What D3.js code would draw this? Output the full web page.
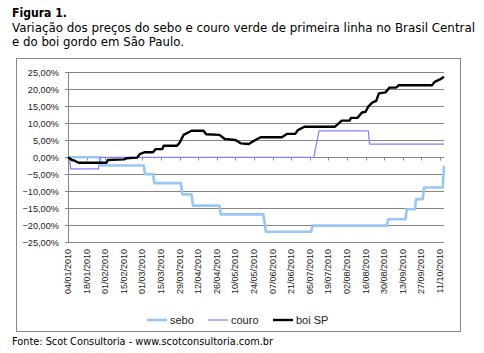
<!DOCTYPE html>
<html>
<head>
<meta charset="utf-8">
<script src="https://cdn.jsdelivr.net/npm/d3@7"></script>
<style>
  body { margin: 0; background: #fff; }
  svg { display: block; }
</style>
</head>
<body>
<svg></svg>
<script>
const width = 484;
const height = 353;

// values (% change since 04/01/2010)
const seboDates = ["04/01/2010", "28/01/2010", "29/01/2010", "02/03/2010", "03/03/2010", "09/03/2010", "10/03/2010",
  "30/03/2010", "31/03/2010", "07/04/2010", "08/04/2010", "28/04/2010", "29/04/2010", "31/05/2010", "02/06/2010",
  "06/07/2010", "07/07/2010", "01/09/2010", "02/09/2010", "15/09/2010", "16/09/2010", "22/09/2010", "23/09/2010",
  "28/09/2010", "29/09/2010", "13/10/2010", "14/10/2010"];
const seboValues = [0, 0, -2.4, -2.4, -5.0, -5.0, -7.6,
  -7.6, -10.9, -10.9, -14.2, -14.2, -16.8, -16.8, -21.9,
  -21.9, -20.1, -20.1, -18.2, -18.2, -15.3, -15.3, -12.3,
  -12.3, -8.9, -8.9, -2.5];

const couroDates = ["04/01/2010", "05/01/2010", "06/01/2010", "27/01/2010", "28/01/2010", "08/07/2010", "10/07/2010",
  "12/07/2010", "18/08/2010", "19/08/2010", "14/10/2010"];
const couroValues = [0, 0, -3.4, -3.4, 0, 0, 4.0,
  7.8, 7.8, 3.9, 3.9];

const boiDates = ["04/01/2010", "07/01/2010", "09/01/2010", "12/01/2010", "02/02/2010", "03/02/2010", "15/02/2010",
  "17/02/2010", "25/02/2010", "27/02/2010", "03/03/2010", "09/03/2010", "11/03/2010", "16/03/2010", "17/03/2010",
  "27/03/2010", "29/03/2010", "01/04/2010", "07/04/2010", "16/04/2010", "18/04/2010", "28/04/2010", "02/05/2010",
  "10/05/2010", "14/05/2010", "20/05/2010", "25/05/2010", "29/05/2010", "14/06/2010", "18/06/2010", "24/06/2010",
  "26/06/2010", "01/07/2010", "24/07/2010", "29/07/2010", "04/08/2010", "05/08/2010", "10/08/2010", "13/08/2010",
  "16/08/2010", "18/08/2010", "21/08/2010", "24/08/2010", "26/08/2010", "31/08/2010", "03/09/2010", "08/09/2010",
  "10/09/2010", "05/10/2010", "07/10/2010", "11/10/2010", "14/10/2010"];
const boiValues = [0, -0.8, -1.0, -1.6, -1.6, -0.8, -0.6,
  -0.3, -0.1, 0.9, 1.5, 1.5, 2.4, 2.4, 3.4,
  3.4, 4.3, 6.6, 7.8, 7.8, 6.8, 6.6, 5.4,
  5.1, 4.1, 3.9, 5.1, 5.9, 5.9, 6.9, 6.9,
  8.0, 9.0, 9.0, 10.8, 10.8, 11.6, 11.6, 13.1,
  13.4, 14.9, 16.1, 16.6, 18.8, 19.1, 20.5, 20.5,
  21.2, 21.2, 22.2, 22.9, 23.7];

const yTicks = [-25, -20, -15, -10, -5, 0, 5, 10, 15, 20, 25];
const xTickLabels = ["04/01/2010", "18/01/2010", "01/02/2010", "15/02/2010", "01/03/2010", "15/03/2010",
  "29/03/2010", "12/04/2010", "26/04/2010", "10/05/2010", "24/05/2010", "07/06/2010", "21/06/2010",
  "05/07/2010", "19/07/2010", "02/08/2010", "16/08/2010", "30/08/2010", "13/09/2010", "27/09/2010", "11/10/2010"];

const seriesNames = ["sebo", "couro", "boi SP"];
const seriesColors = ["#99c6f2", "#8080ff", "#000000"];
const seriesWidths = [2.6, 1.2, 2.4];

const parse = d3.timeParse("%d/%m/%Y");
const series = [
  seboDates.map((d, i) => ({ date: parse(d), value: seboValues[i] })),
  couroDates.map((d, i) => ({ date: parse(d), value: couroValues[i] })),
  boiDates.map((d, i) => ({ date: parse(d), value: boiValues[i] }))
];

const svg = d3.select("svg")
  .attr("width", width)
  .attr("height", height);

const titleFont = "'DejaVu Sans', sans-serif";
const smallFont = "'Liberation Sans', Arial, sans-serif";

// title
svg.append("text")
  .attr("x", 12).attr("y", 17)
  .attr("font-family", titleFont).attr("font-size", 12).attr("font-weight", "bold")
  .attr("textLength", 55).attr("lengthAdjust", "spacingAndGlyphs")
  .text("Figura 1.");
svg.append("text")
  .attr("x", 12).attr("y", 32)
  .attr("font-family", titleFont).attr("font-size", 12)
  .attr("textLength", 463).attr("lengthAdjust", "spacingAndGlyphs")
  .text("Variação dos preços do sebo e couro verde de primeira linha no Brasil Central");
svg.append("text")
  .attr("x", 12).attr("y", 45.5)
  .attr("font-family", titleFont).attr("font-size", 12)
  .attr("textLength", 172).attr("lengthAdjust", "spacingAndGlyphs")
  .text("e do boi gordo em São Paulo.");

// chart frame
svg.append("rect")
  .attr("x", 16.5).attr("y", 58.5)
  .attr("width", 444).attr("height", 273)
  .attr("fill", "none").attr("stroke", "#888").attr("stroke-width", 1);

const x = d3.scaleTime()
  .domain([parse("04/01/2010"), parse("14/10/2010")])
  .range([68, 444]);

const y = d3.scaleLinear()
  .domain([-25, 25])
  .range([242.3, 72.3]);

// gridlines
svg.append("g")
  .selectAll("line")
  .data(yTicks)
  .join("line")
  .attr("x1", 65).attr("x2", 444)
  .attr("y1", d => Math.round(y(d)) + 0.5)
  .attr("y2", d => Math.round(y(d)) + 0.5)
  .attr("stroke", "#868686").attr("stroke-width", 1);

// y axis
const yAxis = svg.append("g");
yAxis.append("line")
  .attr("x1", 68.5).attr("x2", 68.5)
  .attr("y1", Math.round(y(25))).attr("y2", Math.round(y(-25)) + 1)
  .attr("stroke", "#868686");
yAxis.selectAll("text")
  .data(yTicks)
  .join("text")
  .attr("x", 59)
  .attr("y", d => y(d) + 3.5)
  .attr("text-anchor", "end")
  .attr("font-family", smallFont).attr("font-size", 9.2)
  .attr("fill", "#222")
  .text(d => d3.format(".2f")(d).replace(".", ",") + "%");

// x axis on the zero line
const xAxis = svg.append("g");
const y0 = Math.round(y(0)) + 0.5;
xAxis.append("line")
  .attr("x1", 68).attr("x2", 444)
  .attr("y1", y0).attr("y2", y0)
  .attr("stroke", "#868686");
xAxis.selectAll("line.tick")
  .data(xTickLabels)
  .join("line")
  .attr("class", "tick")
  .attr("x1", d => Math.round(x(parse(d))) + 0.5)
  .attr("x2", d => Math.round(x(parse(d))) + 0.5)
  .attr("y1", y0).attr("y2", y0 + 3)
  .attr("stroke", "#868686");
xAxis.selectAll("text")
  .data(xTickLabels)
  .join("text")
  .attr("transform", d => `translate(${x(parse(d)) + 3},249) rotate(-90)`)
  .attr("text-anchor", "end")
  .attr("font-family", smallFont).attr("font-size", 9)
  .attr("fill", "#222")
  .text(d => d);

// lines
const line = d3.line()
  .x(d => x(d.date))
  .y(d => y(d.value));

svg.append("g")
  .selectAll("path")
  .data(series)
  .join("path")
  .attr("d", line)
  .attr("fill", "none")
  .attr("stroke", (d, i) => seriesColors[i])
  .attr("stroke-width", (d, i) => seriesWidths[i])
  .attr("stroke-linejoin", "round");

// legend
const legendX = [147, 208, 273];
const legend = svg.append("g");
seriesNames.forEach(function(name, i) {
  legend.append("line")
    .attr("x1", legendX[i]).attr("x2", legendX[i] + 20)
    .attr("y1", 320).attr("y2", 320)
    .attr("stroke", seriesColors[i])
    .attr("stroke-width", seriesWidths[i]);
  legend.append("text")
    .attr("x", legendX[i] + 23).attr("y", 324)
    .attr("font-family", smallFont).attr("font-size", 11)
    .attr("fill", "#222")
    .text(name);
});

// source
svg.append("text")
  .attr("x", 12).attr("y", 345)
  .attr("font-family", titleFont).attr("font-size", 11)
  .attr("textLength", 261).attr("lengthAdjust", "spacingAndGlyphs")
  .text("Fonte: Scot Consultoria - www.scotconsultoria.com.br");
</script>
</body>
</html>
